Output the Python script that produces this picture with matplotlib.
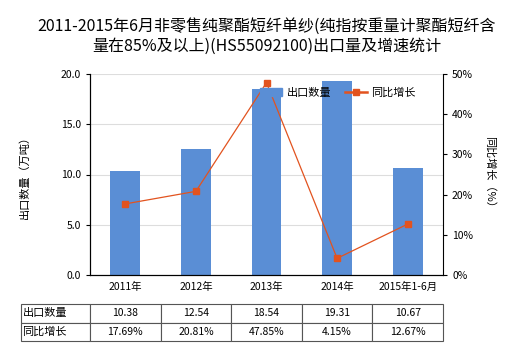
import matplotlib
matplotlib.use("Agg")
import matplotlib.pyplot as plt
from matplotlib.lines import Line2D
from matplotlib.patches import Patch

plt.rcParams['font.family'] = ['Noto Sans CJK SC', 'DejaVu Sans']

categories = ["2011年", "2012年", "2013年", "2014年", "2015年1-6月"]
export_qty = [10.38, 12.54, 18.54, 19.31, 10.67]
growth = [17.69, 20.81, 47.85, 4.15, 12.67]
qty_labels = ["10.38", "12.54", "18.54", "19.31", "10.67"]
growth_labels = ["17.69%", "20.81%", "47.85%", "4.15%", "12.67%"]
row_labels = ["出口数量", "同比增长"]
title = "2011-2015年6月非零售纯聚酯短纤单纱(纯指按重量计聚酯短纤含\n量在85%及以上)(HS55092100)出口量及增速统计"

bar_color = "#5A8ED5"
line_color = "#E2531F"

fig = plt.figure(figsize=(5.2, 3.5), dpi=100)
ax = fig.add_axes([90/520, 75/350, 353/520, 201/350])
x = list(range(len(categories)))
ax.bar(x, export_qty, width=0.42, color=bar_color, zorder=2)
ax.set_xlim(-0.5, len(categories) - 0.5)
ax.set_ylim(0, 20)
ax.set_yticks([0, 5, 10, 15, 20])
ax.set_yticklabels(["0.0", "5.0", "10.0", "15.0", "20.0"])
ax.grid(axis='y', color="#DDDDDD", linewidth=0.8, zorder=0)
ax.set_xticks(x)
ax.set_xticklabels(categories)
ax.tick_params(axis='x', length=0, pad=5, labelsize=7.5)
ax.tick_params(axis='y', labelsize=7.5, length=3)
ax.spines['top'].set_visible(False)
ax.spines['right'].set_visible(False)
ax.set_ylabel("出口数量（万吨）", fontsize=8, labelpad=22)

ax2 = ax.twinx()
ax2.plot(x, growth, color=line_color, linewidth=0.9, marker='s', markersize=4, zorder=3)
ax2.set_ylim(0, 50)
ax2.set_yticks([0, 10, 20, 30, 40, 50])
ax2.set_yticklabels(["0%", "10%", "20%", "30%", "40%", "50%"])
ax2.tick_params(axis='y', labelsize=7.5, length=3)
ax2.spines['top'].set_visible(False)
ax2.set_ylabel("同比增长（%）", fontsize=8, rotation=270, labelpad=16)

handles = [Patch(color=bar_color), Line2D([0], [0], color=line_color, marker='s', markersize=4, linewidth=1.8)]
leg = ax2.legend(handles, ["出口数量", "同比增长"], loc='center left',
                 bbox_to_anchor=((250 - 90) / 353, (275 - 93) / 201),
                 ncol=2, frameon=False, fontsize=8, handlelength=2.0,
                 handletextpad=0.4, columnspacing=1.2)

ax.set_title(title, fontsize=11.5, pad=17)

cell_text = [[row_labels[0]] + qty_labels, [row_labels[1]] + growth_labels]
left = (21 - 90) / 353
width = (443 - 21) / 353
bottom = (275 - 341) / 201
height = (341 - 304) / 201
tbl = ax.table(cellText=cell_text, cellLoc='center', bbox=[left, bottom, width, height])
tbl.auto_set_font_size(False)
tbl.set_fontsize(7.5)
colw = [69/422] + [70.6/422]*5
for (r, c), cell in tbl.get_celld().items():
    cell.set_width(colw[c])
    cell.set_edgecolor("#555555")
    cell.set_linewidth(0.8)
    if c == 0:
        cell.set_text_props(ha='left', fontsize=8)
        cell.PAD = 0.02

fig.savefig("out.png", dpi=100)
